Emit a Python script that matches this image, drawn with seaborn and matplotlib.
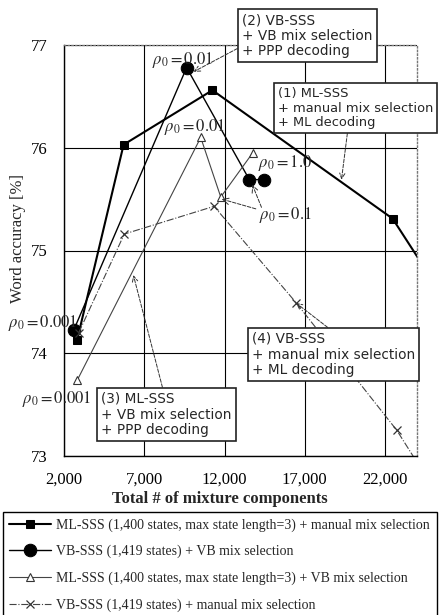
import matplotlib
matplotlib.use("Agg")
import matplotlib.pyplot as plt
import seaborn as sns

# values: total # of mixture components vs word accuracy [%]
ml_manual_x = [2800, 5700, 11240, 22480, 24430]
ml_manual_y = [74.13, 76.03, 76.56, 75.31, 74.84]

vb_vbmix_x = [2600, 9630, 13540, 14480]
vb_vbmix_y = [74.23, 76.78, 75.69, 75.69]

ml_vbmix_x = [2815, 10510, 11760, 13750]
ml_vbmix_y = [73.74, 76.10, 75.52, 75.95]

vb_manual_x = [2900, 5740, 11340, 16470, 22740, 24400]
vb_manual_y = [74.20, 75.16, 75.43, 74.49, 73.25, 72.84]

series_labels = [
    "ML-SSS (1,400 states, max state length=3) + manual mix selection",
    "VB-SSS (1,419 states) + VB mix selection",
    "ML-SSS (1,400 states, max state length=3) + VB mix selection",
    "VB-SSS (1,419 states) + manual mix selection",
]

x_ticks = [2000, 7000, 12000, 17000, 22000]
x_tick_labels = ["2,000", "7,000", "12,000", "17,000", "22,000"]
y_ticks = [73, 74, 75, 76, 77]

sns.set_theme(style="white")
plt.rcParams["font.family"] = ["Liberation Serif", "DejaVu Serif"]
plt.rcParams["mathtext.fontset"] = "stix"

W, H = 440, 615
fig = plt.figure(figsize=(W / 100, H / 100), dpi=100)
ax = fig.add_axes([64.3 / W, 1 - 456 / H, (417 - 64.3) / W, (456 - 45) / H])

sns.lineplot(x=ml_manual_x, y=ml_manual_y, ax=ax, sort=False, estimator=None,
             color="black", lw=1.5, marker="s", markersize=6, markeredgecolor="black",
             label=series_labels[0])
sns.lineplot(x=vb_vbmix_x, y=vb_vbmix_y, ax=ax, sort=False, estimator=None,
             color="black", lw=1.0, marker="o", markersize=9, markeredgecolor="black",
             label=series_labels[1])
sns.lineplot(x=ml_vbmix_x, y=ml_vbmix_y, ax=ax, sort=False, estimator=None,
             color="#444444", lw=0.8, marker="^", markersize=5.5, markerfacecolor="white",
             markeredgecolor="#333333", markeredgewidth=0.8, label=series_labels[2])
sns.lineplot(x=vb_manual_x, y=vb_manual_y, ax=ax, sort=False, estimator=None,
             color="#444444", lw=0.8, linestyle="-.", marker="x", markersize=6,
             markeredgecolor="#333333", markeredgewidth=0.9, label=series_labels[3])

ax.set_xlim(2000, 24000)
ax.set_ylim(73, 77)
ax.set_xticks(x_ticks)
ax.set_xticklabels(x_tick_labels)
ax.set_yticks(y_ticks)
ax.tick_params(axis="both", length=0, labelsize=12, colors="black")
ax.tick_params(axis="x", pad=11)
ax.tick_params(axis="y", pad=12)
ax.grid(True, color="black", lw=0.8)
ax.set_axisbelow(True)
for side in ["left", "bottom"]:
    ax.spines[side].set_color("black")
    ax.spines[side].set_linewidth(1.0)
for side in ["top", "right"]:
    ax.spines[side].set_color("#777777")
    ax.spines[side].set_linestyle(":")
    ax.spines[side].set_linewidth(1.0)

ax.set_xlabel("Total # of mixture components", fontsize=12, fontweight="bold")
ax.xaxis.set_label_coords(0.44, -0.085)
ax.set_ylabel("Word accuracy [%]", fontsize=12)
ax.yaxis.set_label_coords(-0.11, 0.53)

# rho_0 labels
rho_kw = dict(fontsize=12, ha="left", va="center", clip_on=False)
ax.text(7500, 76.85, r"$\rho_0 = 0.01$", **rho_kw)
ax.text(8190, 76.20, r"$\rho_0 = 0.01$", **rho_kw)
ax.text(14080, 75.85, r"$\rho_0 = 1.0$", **rho_kw)
ax.text(-1530, 74.29, r"$\rho_0 = 0.001$", **rho_kw)
ax.text(-650, 73.55, r"$\rho_0 = 0.001$", **rho_kw)

arrow_kw = dict(arrowstyle="->", linestyle="--", lw=0.7, color="#333333",
                shrinkA=0, shrinkB=0)
ax.annotate(r"$\rho_0 = 0.1$", xy=(11820, 75.50), xytext=(14150, 75.35),
            fontsize=12, ha="left", va="center",
            arrowprops=dict(relpos=(0.05, 0.7), **arrow_kw))
ax.annotate("", xy=(13730, 75.64), xytext=(14300, 75.42),
            arrowprops=arrow_kw)

# boxed callouts
box_kw = dict(boxstyle="square,pad=0.3", fc="white", ec="#222222", lw=1.2)
callouts = [
    ("(2) VB-SSS\n+ VB mix selection\n+ PPP decoding", (10070, 76.74), (242, 13), (0.0, 0.27), 9.8),
    ("(1) ML-SSS\n+ manual mix selection\n+ ML decoding", (19290, 75.69), (278, 87), (0.45, 0.0), 9.4),
    ("(3) ML-SSS\n+ VB mix selection\n+ PPP decoding", (6310, 74.76), (101, 392), (0.48, 1.0), 9.8),
    ("(4) VB-SSS\n+ manual mix selection\n+ ML decoding", (16450, 74.49), (252, 332), (0.5, 1.0), 9.8),
]
for text, target, (px, py), rel, fs in callouts:
    ax.annotate(text, xy=target, xytext=(px / W, 1 - py / H), textcoords="figure fraction",
                ha="left", va="top", fontsize=fs, family="DejaVu Sans", linespacing=1.15,
                bbox=box_kw, arrowprops=dict(relpos=rel, **arrow_kw), zorder=5)

handles, labels = ax.get_legend_handles_labels()
if ax.get_legend() is not None:
    ax.get_legend().remove()
fig.legend(handles, labels, loc="upper left", bbox_to_anchor=(3 / W, 0.0, 434 / W, 1 - 512 / H),
           mode="expand", borderaxespad=0, fontsize=10, handlelength=3.0, handletextpad=0.4,
           labelspacing=0.95, frameon=True, fancybox=False, edgecolor="black",
           framealpha=1, borderpad=0.45)
fig.legends[0].get_frame().set_linewidth(1.0)

fig.savefig("out.png", dpi=100)
